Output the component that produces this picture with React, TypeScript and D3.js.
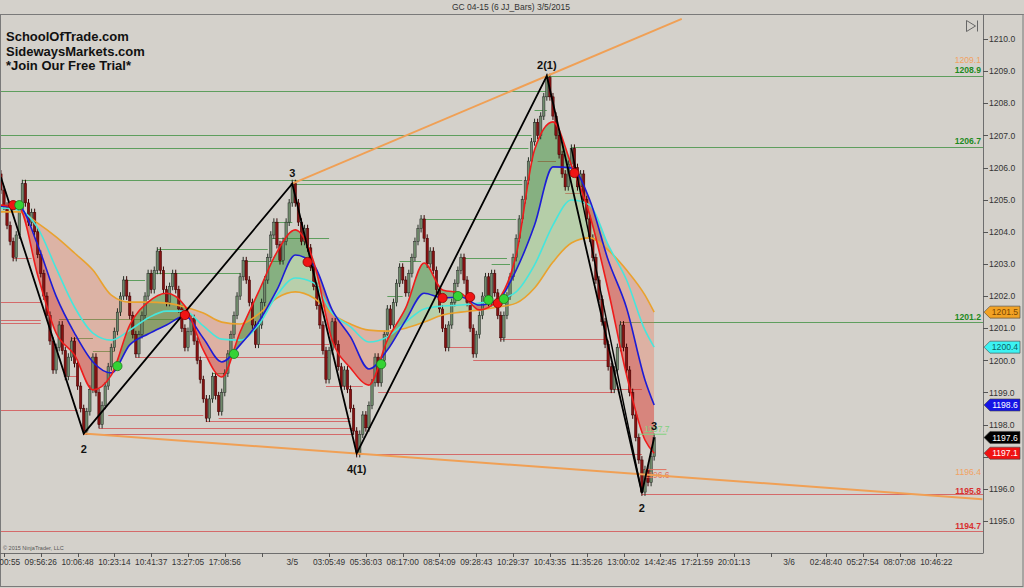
import React, { useRef, useEffect } from 'react';
import * as d3 from 'd3';

const W = 1024;
const H = 588;
const BG = '#d4d1cb';
const FONT = '"Liberation Sans", Arial, sans-serif';

interface IPanel {
    left: number;
    right: number;
    top: number;
    bottom: number;
};

interface ISample {
    bar: number;
    red: number;
    blue: number;
    cyan: number;
    orange: number;
};

const panel: IPanel = { left: 1, right: 983, top: 15, bottom: 553 };

// closes of the 6 tick JJ bars, oldest first
const firstOpen = 1205.8;
const closes: number[] = [
    1205.3, 1204.8, 1204.2, 1203.7, 1203.2, 1203.9, 1204.7, 1205.5, 1204.9, 1204.3,
    1204.6, 1204.0, 1203.3, 1202.7, 1202.0, 1201.4, 1200.6, 1199.7, 1200.4, 1201.1,
    1200.3, 1199.5, 1200.1, 1200.6, 1199.9, 1199.2, 1198.5, 1197.8, 1198.4, 1199.1,
    1200.1, 1199.0, 1198.0, 1198.6, 1199.2, 1199.8, 1200.4, 1200.9, 1201.5, 1202.0,
    1202.5, 1202.0, 1201.4, 1200.8, 1200.2, 1200.8, 1201.4, 1202.0, 1202.7, 1202.2,
    1202.8, 1203.4, 1202.8, 1202.2, 1201.8, 1202.3, 1202.7, 1202.2, 1201.6, 1201.0,
    1200.4, 1200.9, 1201.3, 1200.6, 1200.0, 1199.4, 1198.8, 1198.2, 1198.8, 1199.5,
    1198.9, 1198.4, 1199.0, 1199.6, 1200.2, 1200.8, 1201.4, 1202.0, 1202.6, 1203.1,
    1202.5, 1201.8, 1201.1, 1200.5, 1201.1, 1201.8, 1202.5, 1203.2, 1203.9, 1204.3,
    1203.6, 1203.1, 1203.7, 1204.3, 1204.9, 1205.5, 1204.9, 1204.3, 1203.7, 1204.1,
    1203.5, 1202.9, 1202.3, 1201.7, 1201.1, 1200.3, 1199.4, 1200.3, 1201.2, 1200.5,
    1199.8, 1199.2, 1199.7, 1199.1, 1198.5, 1197.8, 1197.1, 1197.7, 1198.3, 1197.9,
    1198.6, 1199.3, 1200.1, 1199.3, 1200.0, 1200.8, 1201.6, 1201.1, 1201.8, 1202.4,
    1202.9, 1202.5, 1202.1, 1202.7, 1203.2, 1203.7, 1204.1, 1204.4, 1203.8, 1203.0,
    1203.4, 1202.8, 1202.2, 1201.6, 1201.0, 1200.4, 1201.1, 1201.8, 1202.4, 1202.8,
    1203.2, 1202.5, 1201.8, 1201.0, 1200.2, 1200.8, 1201.4, 1202.0, 1202.6, 1201.8,
    1202.7, 1202.1, 1201.4, 1200.7, 1201.4, 1202.0, 1202.6, 1203.2, 1203.8, 1204.4,
    1205.0, 1205.6, 1206.2, 1206.8, 1207.4, 1207.0, 1207.6, 1208.2, 1208.8, 1208.2,
    1207.6, 1207.0, 1206.4, 1205.8, 1205.4, 1206.1, 1206.6, 1206.0, 1205.4, 1205.8,
    1205.0, 1204.4, 1203.8, 1203.2, 1202.5, 1201.9, 1201.2, 1200.5, 1199.8, 1199.1,
    1199.7, 1200.4, 1201.1, 1200.4, 1199.7, 1199.0, 1198.3, 1197.6, 1196.9, 1195.9,
    1196.6, 1196.2, 1197.0, 1197.6
];

// moving averages, read every 6 bars
const maBars: number[] = [0, 6, 12, 18, 24, 30, 36, 42, 48, 54, 60, 66, 72, 78, 84, 90, 96, 102, 108, 114,
    120, 126, 132, 138, 144, 150, 156, 162, 168, 174, 180, 186, 192, 198, 204, 210, 213];
const redMA: number[] = [1204.83, 1204.74, 1202.65, 1200.85, 1200.17, 1199.08, 1199.54, 1201.10, 1201.81, 1202.09,
    1201.69, 1200.32, 1199.48, 1200.88, 1202.13, 1203.37, 1204.06, 1203.06, 1200.63, 1199.76,
    1199.23, 1200.63, 1201.63, 1203.03, 1202.19, 1202.09, 1201.57, 1201.88, 1203.28, 1206.55,
    1207.42, 1206.08, 1204.52, 1202.19, 1199.54, 1197.52, 1197.11];
const blueMA: number[] = [1204.80, 1204.77, 1203.59, 1202.00, 1200.85, 1199.95, 1199.61, 1200.48, 1200.82, 1201.10,
    1201.38, 1200.69, 1199.95, 1200.48, 1201.19, 1202.19, 1203.28, 1202.97, 1201.57, 1200.73,
    1199.73, 1200.32, 1201.25, 1202.09, 1201.94, 1201.97, 1201.72, 1201.88, 1202.81, 1204.21,
    1206.02, 1205.99, 1204.99, 1203.12, 1201.63, 1199.39, 1198.61];
const cyanMA: number[] = [1204.74, 1204.68, 1204.12, 1202.87, 1201.66, 1200.85, 1200.63, 1200.94, 1201.32, 1201.53,
    1201.53, 1201.07, 1200.66, 1200.63, 1201.10, 1202.03, 1202.56, 1202.41, 1201.47, 1201.04,
    1200.57, 1200.73, 1201.19, 1201.60, 1201.69, 1201.72, 1201.78, 1201.88, 1202.13, 1202.97,
    1204.21, 1204.99, 1204.83, 1203.59, 1202.50, 1200.94, 1200.41];
const orangeMA: number[] = [1204.62, 1204.62, 1204.27, 1203.84, 1203.34, 1202.81, 1202.03, 1201.81, 1201.81, 1201.78,
    1201.66, 1201.47, 1201.19, 1201.13, 1201.44, 1201.94, 1202.13, 1201.94, 1201.44, 1201.13,
    1200.94, 1200.91, 1201.00, 1201.19, 1201.41, 1201.50, 1201.57, 1201.66, 1201.78, 1202.25,
    1203.06, 1203.65, 1203.81, 1203.43, 1202.81, 1202.03, 1201.50];

// swing high levels (green) and swing low levels (red); null = runs to the price axis
const greenPrices: number[] = [1208.38, 1208.85, 1207.0, 1206.6, 1206.65, 1205.6, 1205.5, 1204.4, 1204.3, 1203.8,
    1203.45, 1203.1, 1202.72, 1202.5, 1201.3, 1200.7, 1200.3, 1203.2, 1203.0, 1203.1, 1202.0, 1207.8, 1201.2, 1199.6];
const greenFrom: number[] = [0, 178, 0, 0, 186, 7, 95, 137, 89, 88, 51, 79, 48, 40, 19, 23, 30, 150, 160, 130, 126, 174, 202, 69];
const greenTo: (number | null)[] = [178, null, 173, 172, null, 170, 170, 168, 95, 107, 87, 92, 78, 47, 58, 30, 37, 165, 166, 137, 131, 178, null, 73];

const redPrices: number[] = [1201.8, 1201.25, 1201.15, 1203.2, 1198.45, 1197.72, 1197.9, 1198.3, 1198.1, 1198.2,
    1200.1, 1200.5, 1200.65, 1200.0, 1199.0, 1197.1, 1195.85, 1194.7, 1200.4, 1199.1, 1206.2, 1205.2, 1199.2, 1199.5];
const redFrom: number[] = [0, 0, 0, 4, 0, 27, 32, 35, 67, 71, 44, 83, 163, 154, 123, 116, 209, 0, 145, 199, 175, 184, 106, 21];
const redTo: (number | null)[] = [13, 13, 13, 10, 25, 115, 115, 66, 114, 114, 107, 107, 198, 198, 200, 209, null, null, 154, 209, 181, 189, 118, 25];

// levels of the bar in progress
const liveHigh = 1197.7;
const liveLow = 1196.6;

// swing points of the wave count
const swingBars: number[] = [0, 27, 95, 116, 178, 209, 213];
const swingPrices: number[] = [1205.7, 1197.72, 1205.5, 1197.1, 1208.85, 1195.87, 1197.6];
const swingLabels: string[] = ['', '2', '3', '4(1)', '2(1)', '2', '3'];

// signal dots where the fast average crosses the blue one
const dotBars: number[] = [4, 6, 38, 60, 76, 100, 124, 144, 149, 153, 159, 162, 164, 187];
const dotPrices: number[] = [1204.83, 1204.83, 1199.82, 1201.41, 1200.20, 1203.06, 1199.88, 1201.94, 1202.0,
    1201.97, 1201.88, 1201.78, 1201.91, 1205.83];
const dotBuy: boolean[] = [false, true, true, false, true, false, true, false, true, false, true, false, true, false];

const priceTicks: number[] = [1195, 1196, 1197, 1198, 1199, 1200, 1201, 1202, 1203, 1204, 1205, 1206, 1207, 1208, 1209, 1210];
const timeTickBars: number[] = [1, 13, 25, 37, 49, 61, 73, 85, 107, 119, 131, 143, 155, 167, 179, 191, 203, 215,
    227, 239, 251, 269, 281, 293, 305];
const timeTickLabels: string[] = ['09:00:55', '09:56:26', '10:06:48', '10:23:14', '10:41:37', '13:27:05', '17:08:56', '',
    '03:05:49', '05:36:03', '08:17:00', '08:54:09', '09:28:43', '10:29:37', '10:43:35', '11:35:26', '13:00:02',
    '14:42:45', '17:21:59', '20:01:13', '', '02:48:40', '05:27:54', '08:07:08', '10:46:22'];
const dateBars: number[] = [95, 257];
const dateLabels: string[] = ['3/5', '3/6'];

const edgePrices: number[] = [1209.1, 1208.9, 1206.7, 1201.2, 1196.4, 1195.8, 1194.7];
const edgeColors: string[] = ['#f2a263', '#1e8a1e', '#1e8a1e', '#1e8a1e', '#f2a263', '#d83030', '#d83030'];
const edgeBold: boolean[] = [false, true, true, true, false, true, true];

function TradeChart() {
    const d3Container = useRef<SVGSVGElement>(null);

    useEffect(() => {
        if (!d3Container.current) return;
        const svg = d3.select(d3Container.current);
        svg.selectAll('*').remove();

        const lastBar = 320;
        const x = d3.scaleLinear().domain([0, lastBar]).range([0.9, 0.9 + lastBar * 3.067]);
        const y = d3.scaleLinear().domain([1195, 1210]).range([521, 39]);
        const xEnd = (b: number | null) => (b === null ? panel.right : x(b));

        svg.append('rect').attr('width', W).attr('height', H).attr('fill', BG);

        const defs = svg.append('defs');
        defs.append('clipPath').attr('id', 'plot-clip').append('rect')
            .attr('x', panel.left).attr('y', panel.top)
            .attr('width', panel.right - panel.left).attr('height', panel.bottom - panel.top);

        const plot = svg.append('g').attr('clip-path', 'url(#plot-clip)');

        // horizontal swing levels
        plot.append('g').selectAll('line')
            .data(redPrices)
            .join('line')
                .attr('x1', (d, i) => x(redFrom[i]))
                .attr('x2', (d, i) => xEnd(redTo[i]))
                .attr('y1', d => Math.round(y(d)) + 0.5)
                .attr('y2', d => Math.round(y(d)) + 0.5)
                .attr('stroke', '#d46a6a')
                .attr('stroke-width', 1);
        plot.append('g').selectAll('line')
            .data(greenPrices)
            .join('line')
                .attr('x1', (d, i) => x(greenFrom[i]))
                .attr('x2', (d, i) => xEnd(greenTo[i]))
                .attr('y1', d => Math.round(y(d)) + 0.5)
                .attr('y2', d => Math.round(y(d)) + 0.5)
                .attr('stroke', '#5e9e5e')
                .attr('stroke-width', 1);

        // moving average clouds
        const samples: ISample[] = maBars.map((b, k) => ({
            bar: b, red: redMA[k], blue: blueMA[k], cyan: cyanMA[k], orange: orangeMA[k]
        }));
        const cloud = (upper: keyof ISample, lower: keyof ISample, upColor: string, downColor: string, id: string) => {
            const between = d3.area<ISample>().curve(d3.curveMonotoneX)
                .x(d => x(d.bar)).y0(d => y(d[lower])).y1(d => y(d[upper]));
            const above = d3.area<ISample>().curve(d3.curveMonotoneX)
                .x(d => x(d.bar)).y0(panel.top).y1(d => y(d[lower]));
            const below = d3.area<ISample>().curve(d3.curveMonotoneX)
                .x(d => x(d.bar)).y0(panel.bottom).y1(d => y(d[lower]));
            defs.append('clipPath').attr('id', id + '-up').append('path').attr('d', above(samples));
            defs.append('clipPath').attr('id', id + '-down').append('path').attr('d', below(samples));
            plot.append('path').attr('d', between(samples)).attr('fill', upColor)
                .attr('clip-path', `url(#${id}-up)`);
            plot.append('path').attr('d', between(samples)).attr('fill', downColor)
                .attr('clip-path', `url(#${id}-down)`);
        };
        cloud('cyan', 'orange', 'rgba(110,200,90,0.28)', 'rgba(240,110,80,0.3)', 'c1');
        cloud('blue', 'cyan', 'rgba(110,200,90,0.3)', 'rgba(240,110,80,0.32)', 'c2');
        cloud('red', 'blue', 'rgba(40,135,40,0.45)', 'rgba(220,40,30,0.45)', 'c3');

        // bars
        const bars = closes.map((c, i) => ({ i, o: i === 0 ? firstOpen : closes[i - 1], c }));
        const barG = plot.append('g');
        barG.selectAll('line')
            .data(bars)
            .join('line')
                .attr('x1', d => x(d.i)).attr('x2', d => x(d.i))
                .attr('y1', d => y(Math.max(d.o, d.c) + 0.12))
                .attr('y2', d => y(Math.min(d.o, d.c) - 0.12))
                .attr('stroke', d => (d.c >= d.o ? '#263026' : '#3a0606'))
                .attr('stroke-width', 1);
        barG.selectAll('rect')
            .data(bars)
            .join('rect')
                .attr('x', d => x(d.i) - 1.2)
                .attr('width', 2.4)
                .attr('y', d => y(Math.max(d.o, d.c)))
                .attr('height', d => Math.max(1, Math.abs(y(d.o) - y(d.c))))
                .attr('fill', d => (d.c >= d.o ? '#6f8a6b' : '#861212'))
                .attr('stroke', d => (d.c >= d.o ? '#262626' : '#3a0000'))
                .attr('stroke-width', 0.5);

        // averages
        const maLine = (key: keyof ISample) => d3.line<ISample>().curve(d3.curveMonotoneX)
            .x(d => x(d.bar)).y(d => y(d[key]))(samples);
        const maStyles: [keyof ISample, string][] = [
            ['orange', '#e9a22e'], ['cyan', '#46e6dc'], ['blue', '#1c1cd6'], ['red', '#ee1c1c']
        ];
        maStyles.forEach(([key, color]) => {
            plot.append('path').attr('d', maLine(key)).attr('fill', 'none')
                .attr('stroke', color).attr('stroke-width', 1.6);
        });

        // live bar levels
        plot.append('line')
            .attr('x1', x(closes.length - 6)).attr('x2', x(closes.length + 3))
            .attr('y1', y(liveHigh)).attr('y2', y(liveHigh))
            .attr('stroke', '#7fd27f').attr('stroke-width', 1);
        plot.append('line')
            .attr('x1', x(closes.length - 4)).attr('x2', x(closes.length + 3))
            .attr('y1', y(liveLow)).attr('y2', y(liveLow))
            .attr('stroke', '#e07060').attr('stroke-width', 1);
        plot.append('text').attr('x', x(closes.length + 4)).attr('y', y(liveHigh) - 2)
            .attr('text-anchor', 'end').attr('font-family', FONT).attr('font-size', 8.5)
            .attr('fill', '#7fd27f').text(liveHigh.toFixed(1));
        plot.append('text').attr('x', x(closes.length + 4)).attr('y', y(liveLow) + 8)
            .attr('text-anchor', 'end').attr('font-family', FONT).attr('font-size', 8.5)
            .attr('fill', '#e07060').text(liveLow.toFixed(1));

        // trend channel lines
        const trend = (a: number, b: number, toBar: number) => {
            const slope = (swingPrices[b] - swingPrices[a]) / (swingBars[b] - swingBars[a]);
            const end = swingPrices[a] + slope * (toBar - swingBars[a]);
            plot.append('line')
                .attr('x1', x(swingBars[a])).attr('y1', y(swingPrices[a]))
                .attr('x2', x(toBar)).attr('y2', y(end))
                .attr('stroke', '#f0a055').attr('stroke-width', 2);
        };
        trend(2, 4, 222);
        trend(1, 3, lastBar);

        // wave count zigzag
        const zig = d3.line<number>().x(k => x(swingBars[k])).y(k => y(swingPrices[k]));
        plot.append('path').attr('d', zig(swingBars.map((b, k) => k)))
            .attr('fill', 'none').attr('stroke', '#000').attr('stroke-width', 1.8);
        plot.append('line')
            .attr('x1', x(186)).attr('y1', y(closes[186]))
            .attr('x2', x(swingBars[5])).attr('y2', y(swingPrices[5]))
            .attr('stroke', '#000').attr('stroke-width', 1.4);

        // dots
        plot.append('g').selectAll('circle')
            .data(dotBars)
            .join('circle')
                .attr('cx', d => x(d))
                .attr('cy', (d, i) => y(dotPrices[i]))
                .attr('r', 4.6)
                .attr('fill', (d, i) => (dotBuy[i] ? '#35d335' : '#f01414'))
                .attr('stroke', (d, i) => (dotBuy[i] ? '#1d7a1d' : '#8a0000'))
                .attr('stroke-width', 0.8);

        // swing labels
        plot.append('g').selectAll('text')
            .data(swingLabels)
            .join('text')
                .attr('x', (d, k) => x(swingBars[k]))
                .attr('y', (d, k) => {
                    const high = k === swingBars.length - 1 || swingPrices[k] > swingPrices[k + 1];
                    return high ? y(swingPrices[k]) - 7 : y(swingPrices[k]) + 19;
                })
                .attr('text-anchor', 'middle')
                .attr('font-family', FONT).attr('font-size', 11).attr('font-weight', 'bold')
                .attr('fill', '#111')
                .text(d => d);

        // level values by the axis, pushed apart when they would collide
        const edgeY = edgePrices.map(p => y(p) - 1.5);
        for (let k = edgeY.length - 2; k >= 0; k--) {
            if (edgeY[k + 1] - edgeY[k] < 10) edgeY[k] = edgeY[k + 1] - 10;
        }
        plot.append('g').selectAll('text')
            .data(edgePrices)
            .join('text')
                .attr('x', panel.right - 2)
                .attr('y', (d, i) => edgeY[i])
                .attr('text-anchor', 'end')
                .attr('font-family', FONT).attr('font-size', 8.6)
                .attr('font-weight', (d, i) => (edgeBold[i] ? 'bold' : 'normal'))
                .attr('fill', (d, i) => edgeColors[i])
                .text(d => d.toFixed(1));

        // frame
        svg.append('line').attr('x1', 0).attr('x2', W).attr('y1', 14.5).attr('y2', 14.5).attr('stroke', '#8a8a8a');
        svg.append('rect').attr('x', 0.5).attr('y', 14.5).attr('width', W - 1.5).attr('height', H - 16)
            .attr('fill', 'none').attr('stroke', '#7a7a7a');
        svg.append('line').attr('x1', panel.right + 0.5).attr('x2', panel.right + 0.5)
            .attr('y1', panel.top).attr('y2', panel.bottom).attr('stroke', '#6e6e6e');
        svg.append('line').attr('x1', 0).attr('x2', panel.right + 0.5)
            .attr('y1', panel.bottom + 0.5).attr('y2', panel.bottom + 0.5).attr('stroke', '#6e6e6e');

        // current value tags
        const tagValues = [orangeMA[orangeMA.length - 1], cyanMA[cyanMA.length - 1], blueMA[blueMA.length - 1],
            closes[closes.length - 1], redMA[redMA.length - 1]];
        const tagFill = ['#f2a224', '#3cf2f2', '#1414e6', '#000000', '#f01212'];
        const tagText = ['#7a4600', '#0c6464', '#ffffff', '#ffffff', '#ffffff'];

        // price axis (labels hidden behind a tag are left out, as the tag covers them)
        const yAxis = svg.append('g');
        yAxis.selectAll('line')
            .data(priceTicks)
            .join('line')
                .attr('x1', panel.right).attr('x2', panel.right + 5)
                .attr('y1', d => Math.round(y(d)) + 0.5).attr('y2', d => Math.round(y(d)) + 0.5)
                .attr('stroke', '#555');
        yAxis.selectAll('text')
            .data(priceTicks.filter(p => tagValues.every(v => Math.abs(y(v) - y(p)) > 8)))
            .join('text')
                .attr('x', panel.right + 6)
                .attr('y', d => y(d) + 3.2)
                .attr('font-family', FONT).attr('font-size', 8.6).attr('fill', '#333')
                .text(d => d.toFixed(1));

        const tags = svg.append('g').selectAll('g')
            .data(tagValues)
            .join('g')
                .attr('transform', d => `translate(${panel.right + 1},${y(d)})`);
        tags.append('path')
            .attr('d', 'M0,0 L6,-6 L36,-6 L36,6 L6,6 Z')
            .attr('fill', (d, i) => tagFill[i])
            .attr('stroke', '#444').attr('stroke-width', 0.6);
        tags.append('text')
            .attr('x', 21).attr('y', 3.2)
            .attr('text-anchor', 'middle')
            .attr('font-family', FONT).attr('font-size', 8.6)
            .attr('fill', (d, i) => tagText[i])
            .text(d => d.toFixed(1));

        // time axis
        const xAxis = svg.append('g');
        xAxis.selectAll('line')
            .data(timeTickBars)
            .join('line')
                .attr('x1', d => Math.round(x(d)) + 0.5).attr('x2', d => Math.round(x(d)) + 0.5)
                .attr('y1', panel.bottom).attr('y2', panel.bottom + 4)
                .attr('stroke', '#555');
        xAxis.selectAll('text.t')
            .data(timeTickLabels)
            .join('text')
                .attr('class', 't')
                .attr('x', (d, i) => x(timeTickBars[i]))
                .attr('y', panel.bottom + 12)
                .attr('text-anchor', 'middle')
                .attr('font-family', FONT).attr('font-size', 8.3).attr('fill', '#333')
                .text(d => d);
        xAxis.selectAll('text.d')
            .data(dateLabels)
            .join('text')
                .attr('class', 'd')
                .attr('x', (d, i) => x(dateBars[i]))
                .attr('y', panel.bottom + 12)
                .attr('text-anchor', 'middle')
                .attr('font-family', FONT).attr('font-size', 8.3).attr('fill', '#333')
                .text(d => d);

        // texts
        svg.append('text').attr('x', 511).attr('y', 10).attr('text-anchor', 'middle')
            .attr('font-family', FONT).attr('font-size', 8.5).attr('fill', '#333')
            .text('GC 04-15 (6 JJ_Bars)  3/5/2015');
        svg.append('text').attr('x', 3).attr('y', panel.bottom - 3)
            .attr('font-family', FONT).attr('font-size', 5.5).attr('fill', '#555')
            .text('© 2015 NinjaTrader, LLC');
        ['SchoolOfTrade.com', 'SidewaysMarkets.com', '*Join Our Free Trial*'].forEach((t, i) => {
            svg.append('text').attr('x', 6).attr('y', 41 + i * 14.5)
                .attr('font-family', FONT).attr('font-size', 13).attr('font-weight', 'bold')
                .attr('fill', '#111').text(t);
        });

        // scroll to end button
        svg.append('path').attr('d', 'M966.5,20.5 L975.5,26 L966.5,31.5 Z M977.5,20.5 L977.5,31.5')
            .attr('fill', 'none').attr('stroke', '#666').attr('stroke-width', 1);
    }, []);

    return (
        <svg
            width={W}
            height={H}
            ref={d3Container}
            style={{ position: 'absolute', left: 0, top: 0, display: 'block' }}
        />
    );
}

export default function App() {
    return <TradeChart />;
}
